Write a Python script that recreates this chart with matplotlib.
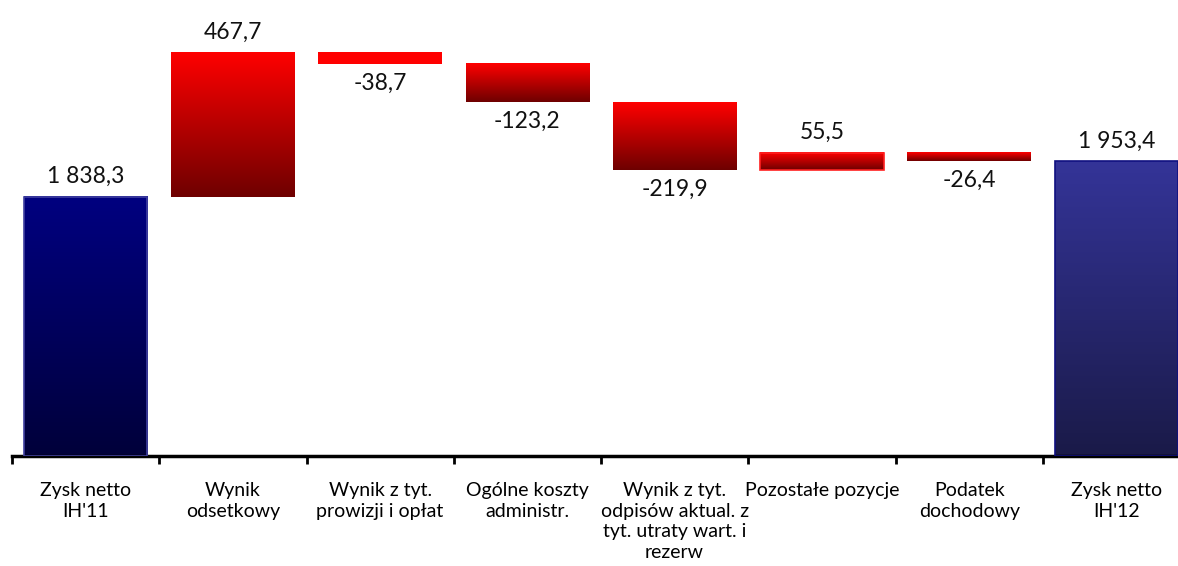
import numpy as np
import matplotlib
matplotlib.use('Agg')
import matplotlib.pyplot as plt
from matplotlib.colors import LinearSegmentedColormap

plt.rcParams['font.family'] = ['Lato', 'DejaVu Sans']

# ---- dane ----
categories = ["Zysk netto\nIH'11", "Wynik\nodsetkowy", "Wynik z tyt.\nprowizji i opłat",
              "Ogólne koszty\nadministr.", "Wynik z tyt.\nodpisów aktual. z\ntyt. utraty wart. i\nrezerw",
              "Pozostałe pozycje", "Podatek\ndochodowy", "Zysk netto\nIH'12"]
start_value = 1838.3
changes = [467.7, -38.7, -123.2, -219.9, 55.5, -26.4]
end_value = 1953.4


def fmt(v):
    s = f"{abs(v):,.1f}".replace(",", " ").replace(".", ",")
    return ("-" if v < 0 else "") + s


# podstawy i wysokości słupków
y_min = 1000
bottoms = [y_min]
heights = [start_value - y_min]
level = start_value
for d in changes:
    bottoms.append(level if d > 0 else level + d)
    heights.append(abs(d))
    level += d
bottoms.append(y_min)
heights.append(end_value - y_min)

x = np.arange(len(categories))

fig = plt.figure(figsize=(11.78, 5.66), dpi=100)
ax = fig.add_axes([12 / 1178, 110 / 566, 1.0, 436 / 566])

edges = ['#4040a0'] + ['none'] * 4 + ['#ff2020', 'none'] + ['#101080']
bars = ax.bar(x, heights, bottom=bottoms, width=0.84, color='none',
              edgecolor=edges, linewidth=1.2, zorder=3)

cm_red = LinearSegmentedColormap.from_list('r', ['#6e0000', '#ff0000'])
cm_flat = LinearSegmentedColormap.from_list('rf', ['#ff0000', '#ff0000'])
cm_blue1 = LinearSegmentedColormap.from_list('b1', ['#00003a', '#000080'])
cm_blue2 = LinearSegmentedColormap.from_list('b2', ['#1a1a48', '#343498'])
cmaps = [cm_blue1, cm_red, cm_flat, cm_red, cm_red, cm_red, cm_red, cm_blue2]

grad = np.linspace(0, 1, 256).reshape(-1, 1)
for b, cm in zip(bars, cmaps):
    x0, y0 = b.get_x(), b.get_y()
    ax.imshow(grad, cmap=cm, origin='lower', aspect='auto', zorder=2,
              extent=[x0, x0 + b.get_width(), y0, y0 + b.get_height()])
ax.set_xlim(-0.5, len(categories) - 0.5)
ax.set_ylim(y_min, 2410)

# etykiety wartości
values = [start_value] + changes + [end_value]
for i, (v, b) in enumerate(zip(values, bars)):
    top = b.get_y() + b.get_height()
    if v >= 0:
        ax.annotate(fmt(v), (i, top), xytext=(0, 7), textcoords='offset points',
                    ha='center', va='bottom', fontsize=16.5, color='#111111')
    else:
        ax.annotate(fmt(v), (i, b.get_y()), xytext=(0, -6), textcoords='offset points',
                    ha='center', va='top', fontsize=16.5, color='#111111')

# oś X
for s in ['top', 'right', 'left']:
    ax.spines[s].set_visible(False)
ax.spines['bottom'].set_linewidth(2.5)
ax.set_yticks([])
ax.set_xticks(x)
ax.set_xticklabels(categories, fontsize=14, linespacing=1.25)
ax.tick_params(axis='x', which='major', length=0, pad=19)
ax.set_xticks(np.arange(len(categories)) - 0.5, minor=True)
ax.tick_params(axis='x', which='minor', length=6, width=2)

fig.savefig('out.png', dpi=100)
